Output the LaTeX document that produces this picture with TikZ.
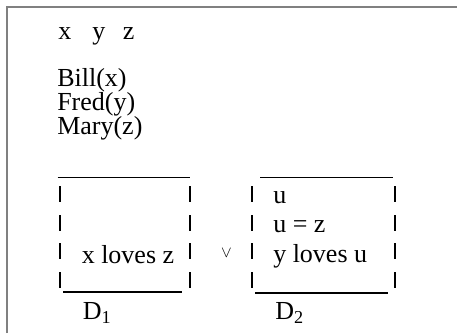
\documentclass[tikz,border=0pt]{standalone}
\usepackage{fontspec}
\setmainfont{Liberation Serif}
\usepackage{tikz}
\usetikzlibrary{positioning}
\definecolor{frameG}{RGB}{128,128,128}

\begin{document}
\begin{tikzpicture}[x=0.75pt, y=-0.75pt, font=\fontsize{19.5}{23}\selectfont,
  txt/.style={anchor=base west, inner sep=0},
  drsline/.style={line width=0.8pt},
  drsbar/.style={line width=1.2pt}]
  \useasboundingbox (0,0) rectangle (457,333);
  % page frame
  \draw[frameG, line width=1.5pt] (6.5,333) -- (6.5,6.5) -- (457,6.5);
  % universe and conditions
  \node[txt] (vx) at (58,39.5) {x};
  \node[txt] (vy) at (92,39.5) {y};
  \node[txt] (vz) at (122.5,39.5) {z};
  \node[txt] (bill) at (57,86.5) {Bill(x)};
  \node[txt] (fred) at (57,110.5) {Fred(y)};
  \node[txt] (mary) at (57,134.5) {Mary(z)};
  % box D1
  \draw[drsline] (57.5,177.5) -- (190,177.5);
  \draw[drsline] (63,292) -- (182,292);
  \foreach \r in {186,215,243,272}{
    \draw[drsbar] (60,\r) -- ++(0,16);
    \draw[drsbar] (190,\r) -- ++(0,16);
  }
  \node[txt] (lxz) at (81.5,263) {x loves z};
  \node[txt] (d1) at (82.5,319) {D\textsubscript{1}};
  % or
  \node[inner sep=0, font=\fontsize{12}{12}\selectfont] (orv) at (226.5,253.5) {$\vee$};
  % box D2
  \draw[drsline] (260,177.5) -- (393,177.5);
  \draw[drsline] (255,293) -- (388,293);
  \foreach \r in {186,215,243,272}{
    \draw[drsbar] (252,\r) -- ++(0,16);
    \draw[drsbar] (395,\r) -- ++(0,16);
  }
  \node[txt] (ru) at (273,203) {u};
  \node[txt] (ueq) at (273,232) {u = z};
  \node[txt] (lyu) at (273,262) {y loves u};
  \node[txt] (d2) at (275,319) {D\textsubscript{2}};
\end{tikzpicture}
\end{document}
